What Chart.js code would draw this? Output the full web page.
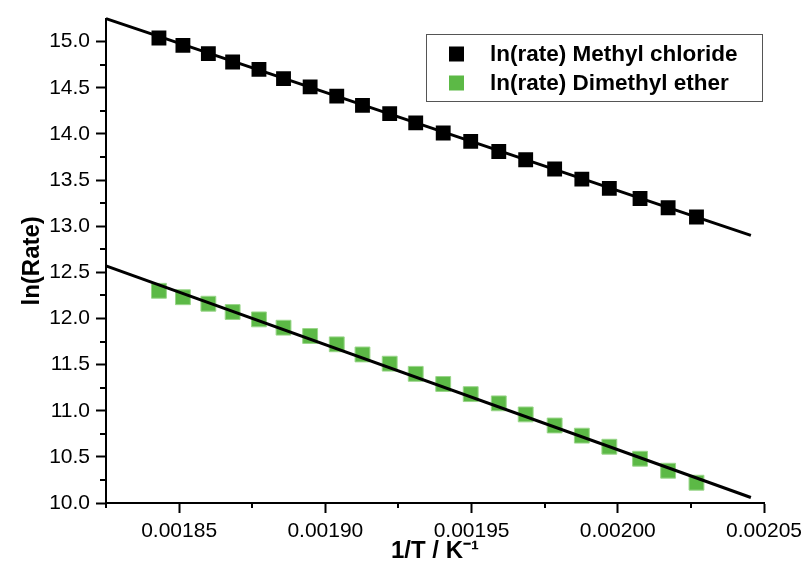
<!DOCTYPE html>
<html>
<head>
<meta charset="utf-8">
<script src="https://cdn.jsdelivr.net/npm/chart.js@4.4.1/dist/chart.umd.min.js"></script>
<style>
  html, body { margin: 0; padding: 0; background: #fff; }
  #wrap { width: 808px; height: 584px; }
</style>
</head>
<body>
<div id="wrap"><canvas id="c" width="808" height="584"></canvas></div>
<script>
// ---- data ----
const invT = [0.0018431, 0.0018513, 0.0018600, 0.0018683, 0.0018773, 0.0018857, 0.0018948,
              0.0019039, 0.0019127, 0.0019220, 0.0019309, 0.0019403, 0.0019497, 0.0019593,
              0.0019685, 0.0019784, 0.0019877, 0.0019971, 0.0020076, 0.0020172, 0.0020269];
const lnRateMethylChloride = [15.04, 14.96, 14.87, 14.78, 14.70, 14.60, 14.51, 14.41, 14.31, 14.22, 14.12,
                              14.01, 13.92, 13.81, 13.72, 13.62, 13.51, 13.41, 13.30, 13.20, 13.10];
const lnRateDimethylEther = [12.30, 12.23, 12.16, 12.07, 11.99, 11.90, 11.81, 11.72, 11.61, 11.51, 11.40,
                             11.29, 11.18, 11.08, 10.96, 10.84, 10.73, 10.61, 10.48, 10.35, 10.22];
const fitX = [0.001825, 0.0020455];
const fitMethylChloride = [15.25, 12.90];
const fitDimethylEther = [12.57, 10.06];
const seriesLabels = ['ln(rate) Methyl chloride', 'ln(rate) Dimethyl ether'];
const xMajorTicks = [0.00185, 0.00190, 0.00195, 0.00200, 0.00205];
const xTickLabels = ['0.00185', '0.00190', '0.00195', '0.00200', '0.00205'];
const xMinorTicks = [0.001825, 0.001875, 0.001925, 0.001975, 0.002025];
const yMajorTicks = [10.0, 10.5, 11.0, 11.5, 12.0, 12.5, 13.0, 13.5, 14.0, 14.5, 15.0];
const yTickLabels = ['10.0', '10.5', '11.0', '11.5', '12.0', '12.5', '13.0', '13.5', '14.0', '14.5', '15.0'];
const yMinorTicks = [10.25, 10.75, 11.25, 11.75, 12.25, 12.75, 13.25, 13.75, 14.25, 14.75];

const zip = (xs, ys) => xs.map((x, i) => ({ x: x, y: ys[i] }));
const FONT = '"Liberation Sans", Arial, sans-serif';
const colBlack = '#000000';
const colGreen = '#5cb946';

const minorTicks = {
  id: 'minorTicks',
  afterDraw(chart) {
    const ctx = chart.ctx;
    const xs = chart.scales.x, ys = chart.scales.y;
    ctx.save();
    ctx.strokeStyle = '#000';
    ctx.lineWidth = 2;
    ctx.beginPath();
    xMinorTicks.forEach(v => {
      const p = Math.round(xs.getPixelForValue(v));
      ctx.moveTo(p, xs.top); ctx.lineTo(p, xs.top + 5);
    });
    yMinorTicks.forEach(v => {
      const p = Math.round(ys.getPixelForValue(v));
      ctx.moveTo(ys.right, p); ctx.lineTo(ys.right - 6, p);
    });
    ctx.stroke();
    ctx.restore();
  }
};

const boxLegend = {
  id: 'boxLegend',
  afterDraw(chart) {
    const ctx = chart.ctx;
    const items = chart.data.datasets.filter(d => d.isMarker);
    const x0 = 426, y0 = 34, w = 336, h = 67;
    ctx.save();
    ctx.fillStyle = '#fff';
    ctx.fillRect(x0, y0, w, h);
    ctx.strokeStyle = '#555';
    ctx.lineWidth = 1;
    ctx.strokeRect(x0 + 0.5, y0 + 0.5, w, h);
    ctx.font = 'bold 22.5px ' + FONT;
    ctx.textBaseline = 'middle';
    items.forEach((d, i) => {
      const cy = 54 + i * 29;
      ctx.fillStyle = d.backgroundColor;
      ctx.fillRect(449, cy - 7.5, 15, 15);
      ctx.fillStyle = '#000';
      ctx.fillText(d.label, 490, cy + 1);
    });
    ctx.restore();
  }
};

new Chart(document.getElementById('c'), {
  type: 'scatter',
  data: {
    datasets: [
      { type: 'line', label: 'fit1', data: zip(fitX, fitMethylChloride), borderColor: colBlack,
        borderWidth: 3, pointRadius: 0, fill: false, order: 0, clip: false },
      { type: 'line', label: 'fit2', data: zip(fitX, fitDimethylEther), borderColor: colBlack,
        borderWidth: 3, pointRadius: 0, fill: false, order: 0, clip: false },
      { label: seriesLabels[0], isMarker: true, data: zip(invT, lnRateMethylChloride), backgroundColor: colBlack,
        borderColor: colBlack, borderWidth: 0, pointStyle: 'rect', pointRadius: 10.5, order: 1 },
      { label: seriesLabels[1], isMarker: true, data: zip(invT, lnRateDimethylEther), backgroundColor: colGreen,
        borderColor: '#9ad68a', borderWidth: 1, pointStyle: 'rect', pointRadius: 10.5, order: 1 }
    ]
  },
  options: {
    responsive: false,
    animation: false,
    devicePixelRatio: 1,
    layout: { padding: { top: 15, right: 42, left: 0, bottom: 0 } },
    plugins: { legend: { display: false }, tooltip: { enabled: false } },
    scales: {
      x: {
        type: 'linear',
        min: 0.001825, max: 0.00205,
        afterBuildTicks: s => { s.ticks = xMajorTicks.map(v => ({ value: v })); },
        afterFit: s => { s.height = 81; },
        ticks: {
          color: '#000', font: { family: FONT, size: 21 }, padding: 6, maxRotation: 0,
          callback: (v, i) => xTickLabels[i]
        },
        grid: { drawOnChartArea: false, drawTicks: true, tickLength: 10, tickColor: '#000', tickWidth: 2 },
        border: { display: true, color: '#000', width: 2 },
        title: { display: true, text: '1/T / K⁻¹', color: '#000',
                 font: { family: FONT, size: 24, weight: 'bold' }, padding: { top: 0, bottom: 18 } }
      },
      y: {
        type: 'linear',
        min: 10, max: 15.25,
        afterBuildTicks: s => { s.ticks = yMajorTicks.map(v => ({ value: v })); },
        afterFit: s => { s.width = 106; },
        ticks: {
          color: '#000', font: { family: FONT, size: 21 }, padding: 6,
          callback: (v, i) => yTickLabels[i]
        },
        grid: { drawOnChartArea: false, drawTicks: true, tickLength: 10, tickColor: '#000', tickWidth: 2 },
        border: { display: true, color: '#000', width: 2 },
        title: { display: true, text: 'ln(Rate)', color: '#000',
                 font: { family: FONT, size: 24, weight: 'bold' }, padding: { top: 18, bottom: 0 } }
      }
    }
  },
  plugins: [minorTicks, boxLegend]
});
</script>
</body>
</html>
